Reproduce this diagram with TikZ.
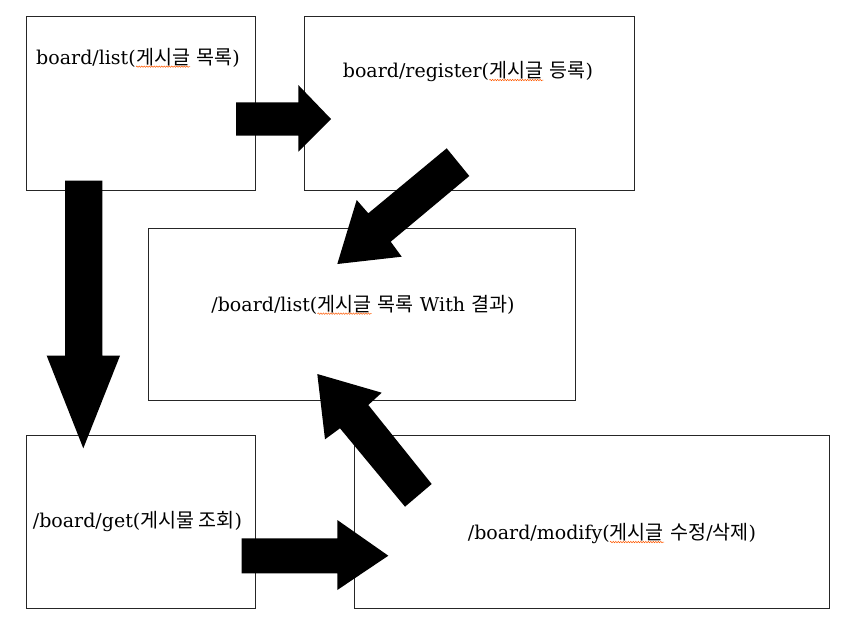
\documentclass[tikz,border=0pt]{standalone}
\usepackage{fontspec}
\setmainfont{DejaVu Serif}
\newfontfamily\kr{Noto Sans CJK KR}[Scale=1.03]
\usetikzlibrary{decorations.pathmorphing}
\tikzset{
  box/.style={draw=black!85, line width=1pt, fill=none},
  lbl/.style={inner sep=0pt, font=\fontsize{19}{22}\selectfont},
  blockarrow/.style={fill=black, draw=none},
  squigline/.style={draw=orange!70!red, line width=0.5pt, decorate,
    decoration={snake, amplitude=0.7pt, segment length=2.5pt}}
}
\newcommand\squig[1]{\tikz[baseline=(w.base)]{\node[inner sep=0pt,outer sep=0pt] (w) {#1};
  \draw[squigline] ([yshift=-0.5pt]w.south west) -- ([yshift=-0.5pt]w.south east);}}
\begin{document}
\begin{tikzpicture}[x=1pt,y=-1pt]
\useasboundingbox (0,0) rectangle (851,622);
% boxes
\draw[box] (26,16) rectangle (255,190) node[pos=0.5, inner sep=0pt] (b1) {};
\draw[box] (304,16) rectangle (634,190) node[pos=0.5, inner sep=0pt] (b2) {};
\draw[box] (148,228) rectangle (575,400) node[pos=0.5, inner sep=0pt] (b3) {};
\draw[box] (26,435) rectangle (255,608) node[pos=0.5, inner sep=0pt] (b4) {};
\draw[box] (354,435) rectangle (829,608) node[pos=0.5, inner sep=0pt] (b5) {};
% labels
\node[lbl] (t1) at (138,58) {board/list(\squig{\kr 게시글} {\kr 목록})};
\node[lbl] (t2) at (468,72) {board/register(\squig{\kr 게시글} {\kr 등록})};
\node[lbl] (t3) at (363,305) {/board/list(\squig{\kr 게시글} {\kr 목록} With {\kr 결과})};
\node[lbl] (t4) at (137.5,522) {/board/get({\kr 게시물 조회})};
\node[lbl] (t5) at (612,534) {/board/modify(\squig{\kr 게시글} {\kr 수정}/{\kr 삭제})};
% block arrows
\fill[blockarrow] (236,102.3) -- (298.3,102.3) -- (298.3,85) -- (331,119) -- (298.3,151.7) -- (298.3,135.7) -- (236,135.7) -- cycle;
\fill[blockarrow] (65,180.7) -- (102.3,180.7) -- (102.3,355.7) -- (120,355.7) -- (83.3,448.3) -- (46.7,355.7) -- (65,355.7) -- cycle;
\fill[blockarrow] (446.7,148.3) -- (469.3,176) -- (390.7,241.7) -- (401.7,256.7) -- (337.3,264) -- (356.7,200) -- (368.3,213.3) -- cycle;
\fill[blockarrow] (241.7,538.3) -- (337.3,538.3) -- (337.3,520) -- (388.3,555.7) -- (337.3,590) -- (337.3,573.3) -- (241.7,573.3) -- cycle;
\fill[blockarrow] (431.7,484) -- (405,506.7) -- (340,428.3) -- (325,439.3) -- (317.3,374) -- (381.7,392.7) -- (368.3,405) -- cycle;
\end{tikzpicture}
\end{document}
